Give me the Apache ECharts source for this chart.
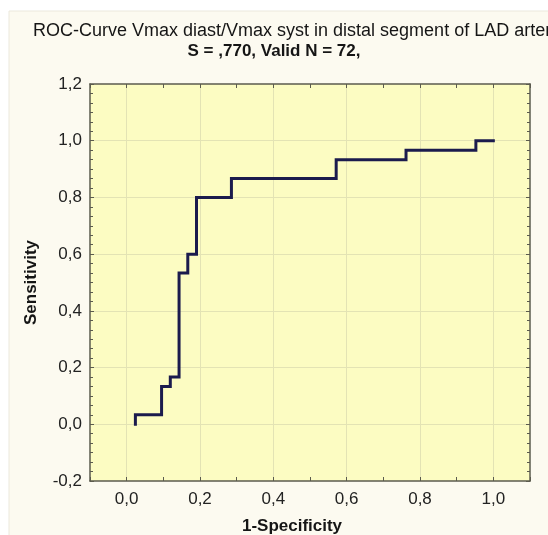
<!DOCTYPE html>
<html>
<head>
<meta charset="utf-8">
<script src="https://cdn.jsdelivr.net/npm/echarts@6/dist/echarts.min.js"></script>
<style>
html,body{margin:0;padding:0;background:#ffffff;}
#chart{width:548px;height:535px;}
</style>
</head>
<body>
<div id="chart"></div>
<script>
// ROC curve vertices (1-Specificity, Sensitivity)
const fpr = [0.0238, 0.0238, 0.0952, 0.0952, 0.1190, 0.1190, 0.1429, 0.1429, 0.1667, 0.1667, 0.1905, 0.1905, 0.2857, 0.2857, 0.5714, 0.5714, 0.7619, 0.7619, 0.9524, 0.9524, 1.0];
const tpr = [0.0, 0.0333, 0.0333, 0.1333, 0.1333, 0.1667, 0.1667, 0.5333, 0.5333, 0.6, 0.6, 0.8, 0.8, 0.8667, 0.8667, 0.9333, 0.9333, 0.9667, 0.9667, 1.0, 1.0];
const titleLine1 = 'ROC-Curve Vmax diast/Vmax syst in distal segment of LAD artery';
const titleLine2 = 'S = ,770, Valid N = 72,';
const xName = '1-Specificity';
const yName = 'Sensitivity';

const points = fpr.map((x, i) => [x, tpr[i]]);
const fmt = v => {
  const r = Math.round(v * 10) / 10;
  if (Math.abs(Math.round(r * 10)) % 2 !== 0) return '';
  return r.toFixed(1).replace('.', ',');
};
const axisColor = '#5b5b4e';
const gridColor = '#e3e3b4';
const font = 'Liberation Sans, Arial, sans-serif';

const chart = echarts.init(document.getElementById('chart'), null, {renderer: 'canvas'});
chart.setOption({
  animation: false,
  backgroundColor: '#ffffff',
  graphic: [{
    type: 'rect', z: -10, silent: true,
    shape: {x: 9, y: 11, width: 560, height: 540},
    style: {fill: '#fcfaf0', stroke: '#ebe8dc', lineWidth: 1}
  }],
  title: [
    {text: titleLine1, left: 28, top: 17,
     textStyle: {fontFamily: font, fontSize: 18, fontWeight: 'normal', color: '#151515'}},
    {text: titleLine2, left: 'center', top: 38,
     textStyle: {fontFamily: font, fontSize: 17, fontWeight: 'bold', color: '#151515'}}
  ],
  grid: {left: 90, top: 84, right: 18, bottom: 54, show: true, outerBoundsMode: 'none', containLabel: false,
         backgroundColor: '#fcfcc2', borderWidth: 0},
  xAxis: [{
    type: 'value', min: -0.1, max: 1.1, interval: 0.1, position: 'bottom',
    name: xName, nameLocation: 'middle', nameGap: 37,
    nameTextStyle: {fontFamily: font, fontSize: 17, fontWeight: 'bold', color: '#151515', padding: [0, 36, 0, 0]},
    axisLine: {show: true, onZero: false, lineStyle: {color: axisColor, width: 1.5}},
    axisTick: {show: true, inside: true, length: 4, lineStyle: {color: axisColor}},
    axisLabel: {formatter: fmt, margin: 10, fontFamily: font, fontSize: 17, color: '#222'},
    splitLine: {show: true, showMinLine: false, showMaxLine: false,
                lineStyle: {color: [gridColor, 'rgba(0,0,0,0)'], width: 1}}
  }, {
    type: 'value', min: -0.1, max: 1.1, interval: 0.1, position: 'top',
    axisLine: {show: true, onZero: false, lineStyle: {color: axisColor, width: 1.5}},
    axisTick: {show: true, inside: true, length: 4, lineStyle: {color: axisColor}},
    axisLabel: {show: false}, splitLine: {show: false}
  }],
  yAxis: [{
    type: 'value', min: -0.2, max: 1.2, interval: 0.2, position: 'left',
    name: yName, nameLocation: 'middle', nameGap: 50, nameRotate: 90,
    nameTextStyle: {fontFamily: font, fontSize: 17, fontWeight: 'bold', color: '#151515'},
    axisLine: {show: true, onZero: false, lineStyle: {color: axisColor, width: 1.5}},
    axisTick: {show: true, inside: true, length: 4, lineStyle: {color: axisColor}},
    minorTick: {show: true, splitNumber: 6, length: 3, lineStyle: {color: axisColor}},
    axisLabel: {formatter: v => (Math.round(v * 10) / 10).toFixed(1).replace('.', ','), margin: 8,
                fontFamily: font, fontSize: 17, color: '#222'},
    splitLine: {show: true, showMinLine: false, showMaxLine: false, lineStyle: {color: gridColor, width: 1}}
  }, {
    type: 'value', min: -0.2, max: 1.2, interval: 0.2, position: 'right',
    axisLine: {show: true, onZero: false, lineStyle: {color: axisColor, width: 1.5}},
    axisTick: {show: true, inside: true, length: 4, lineStyle: {color: axisColor}},
    minorTick: {show: true, splitNumber: 6, length: 3, lineStyle: {color: axisColor}},
    axisLabel: {show: false}, splitLine: {show: false}
  }],
  series: [{
    type: 'line', data: points, xAxisIndex: 0, yAxisIndex: 0,
    showSymbol: false, symbol: 'none',
    lineStyle: {color: '#1b1b4d', width: 3, join: 'miter', cap: 'square'}
  }]
});
</script>
</body>
</html>
